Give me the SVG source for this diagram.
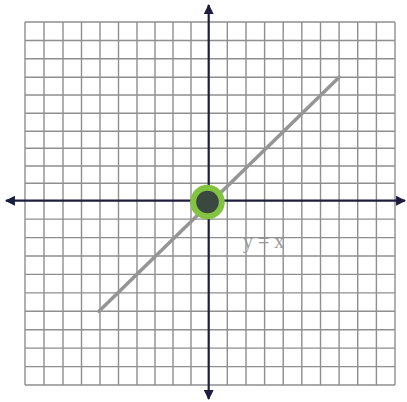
<svg xmlns="http://www.w3.org/2000/svg" width="407" height="402" viewBox="0 0 407 402">
<style>
.grid{stroke:#7c7c7c;stroke-width:1.4;fill:none;opacity:0.85}
.axis{stroke:#1d1d3d;stroke-width:2.2;fill:none}
.graph{stroke:#959595;stroke-width:3.5;stroke-linecap:round;fill:none}
.lbl{font-family:"Liberation Serif","Times New Roman",serif;font-size:20px;fill:#9a9a9a}
</style>
<defs>
<marker id="arr" viewBox="0 0 10 10" refX="9" refY="5" markerWidth="4.5" markerHeight="4.5" orient="auto" markerUnits="strokeWidth">
<path d="M0,0 L10,5 L0,10 z" fill="#1d1d3d"/>
</marker>
</defs>
<rect width="407" height="402" fill="#ffffff"/>
<g id="grid" class="grid">
<path d="M25,22V385 M44,22V385 M63,22V385 M81.5,22V385 M100,22V385 M118.5,22V385 M137,22V385 M155,22V385 M173,22V385 M191,22V385 M227.3,22V385 M246,22V385 M264.6,22V385 M283.2,22V385 M301.8,22V385 M320.5,22V385 M339.1,22V385 M357.7,22V385 M376.4,22V385 M395,22V385"/>
<path d="M25,22H395 M25,40.5H395 M25,58.7H395 M25,77.3H395 M25,95H395 M25,113.3H395 M25,131.3H395 M25,148.3H395 M25,166H395 M25,183.3H395 M25,219.1H395 M25,237.6H395 M25,256H395 M25,274.4H395 M25,292.9H395 M25,311.3H395 M25,329.7H395 M25,348.1H395 M25,366.6H395 M25,385H395"/>
</g>
<g id="connectors">
<line id="x-axis-right" class="axis" x1="208.7" y1="200.7" x2="405" y2="200.7" marker-end="url(#arr)"/>
<line id="x-axis-left" class="axis" x1="208.7" y1="200.7" x2="6" y2="200.7" marker-end="url(#arr)"/>
<line id="y-axis-up" class="axis" x1="208.7" y1="200.7" x2="208.7" y2="5" marker-end="url(#arr)"/>
<line id="y-axis-down" class="axis" x1="208.7" y1="200.7" x2="208.7" y2="399" marker-end="url(#arr)"/>
</g>
<g id="line-y-equals-x">
<line class="graph" x1="99" y1="311.3" x2="339.1" y2="77.3"/>
</g>
<g id="origin-point">
<circle cx="207.5" cy="202" r="14.3" fill="#3b4840" stroke="#82c341" stroke-width="6"/>
</g>
<g id="label">
<text class="lbl" x="243" y="248">y = x</text>
</g>
</svg>
